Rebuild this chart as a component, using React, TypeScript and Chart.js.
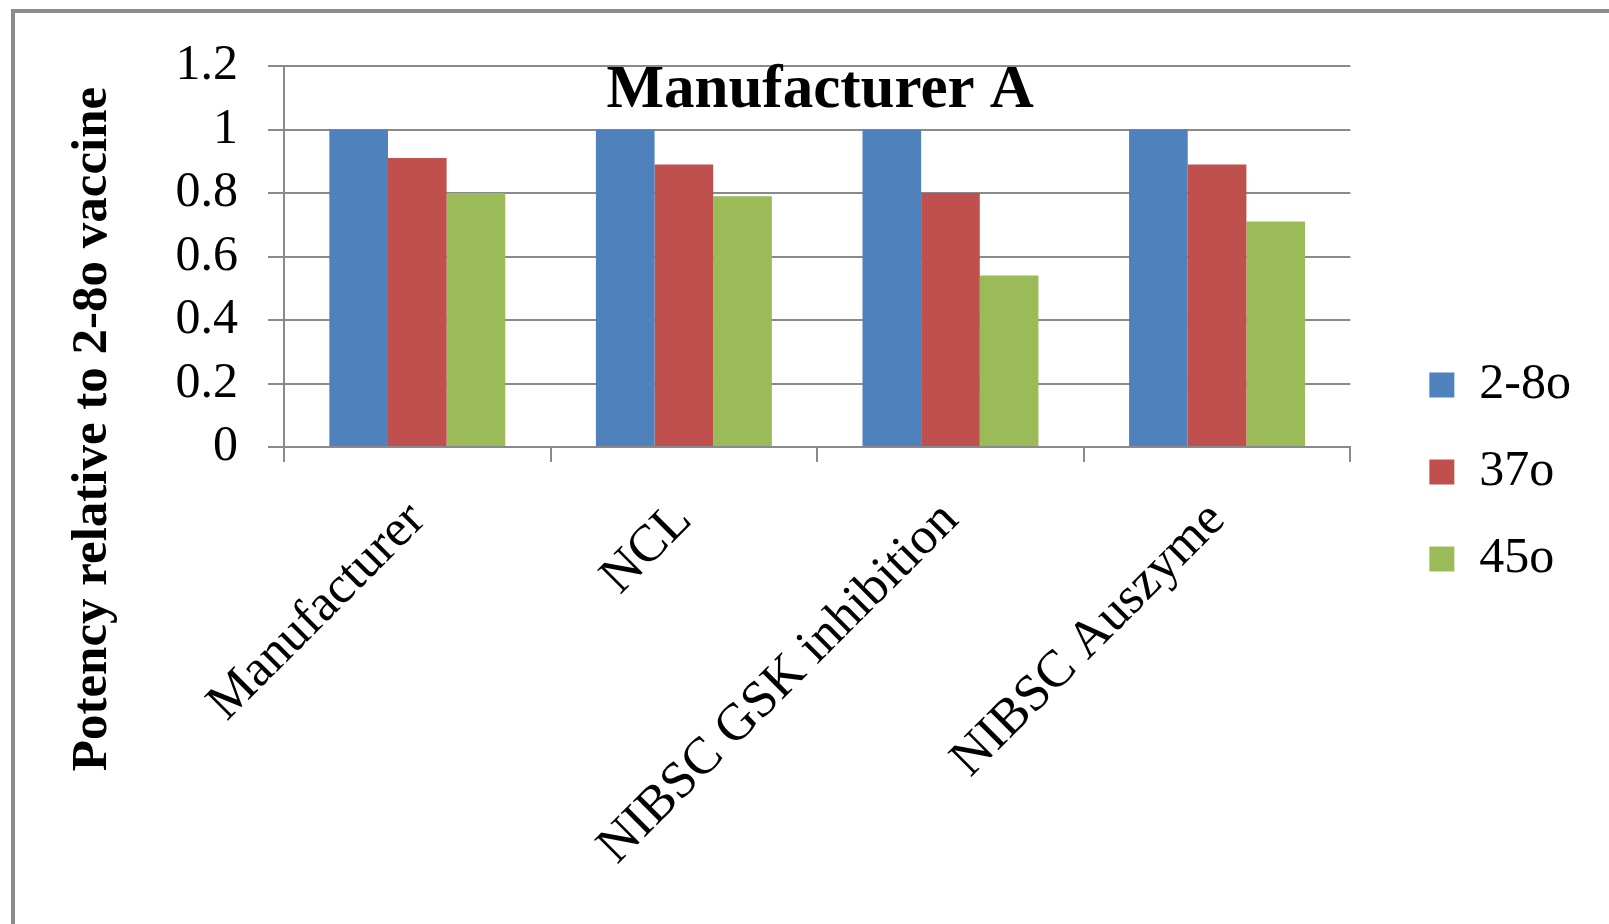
import React, { useEffect, useRef } from 'react';
import { Chart, registerables } from 'chart.js';

Chart.register(...registerables);

const categories = ['Manufacturer', 'NCL', 'NIBSC GSK inhibition', 'NIBSC Auszyme'];
const seriesNames = ['2-8o', '37o', '45o'];
const values28 = [1.0, 1.0, 1.0, 1.0];
const values37 = [0.91, 0.89, 0.8, 0.89];
const values45 = [0.8, 0.79, 0.54, 0.71];
const yTickLabels = ['0', '0.2', '0.4', '0.6', '0.8', '1', '1.2'];
const chartTitle = 'Manufacturer A';
const yAxisTitle = 'Potency relative to 2-8o vaccine';

const seriesColors = ['#4F81BD', '#C0504D', '#9BBB59'];
const gridColor = '#8a8a8a';
const FONT = '"Liberation Serif", "Times New Roman", serif';

const textPlugin = {
  id: 'customText',
  afterDraw(chart: any) {
    const { ctx, chartArea } = chart;
    ctx.save();
    ctx.fillStyle = '#000';
    ctx.font = `bold 61px ${FONT}`;
    ctx.textAlign = 'center';
    ctx.textBaseline = 'alphabetic';
    ctx.fillText(chartTitle, (chartArea.left + chartArea.right) / 2 + 3, chartArea.top + 41);
    ctx.translate(78, 416);
    ctx.rotate(-Math.PI / 2);
    ctx.font = `bold 51px ${FONT}`;
    ctx.textBaseline = 'middle';
    ctx.fillText(yAxisTitle, 0, 0);
    ctx.restore();
  },
};

const legendShift = {
  id: 'legendShift',
  afterLayout(chart: any) {
    const lg = chart.legend;
    if (lg) {
      lg.left += 42;
      lg.right += 42;
      lg.top -= 23;
      lg.bottom -= 23;
    }
  },
};

export default function App() {
  const canvasRef = useRef<HTMLCanvasElement | null>(null);

  useEffect(() => {
    if (!canvasRef.current) return;
    const seriesValues = [values28, values37, values45];
    const chart = new Chart(canvasRef.current, {
      type: 'bar',
      data: {
        labels: categories,
        datasets: seriesNames.map((name, i) => ({
          label: name,
          data: seriesValues[i],
          backgroundColor: seriesColors[i],
          borderWidth: 0,
          barPercentage: 1.0,
          categoryPercentage: 0.66,
        })),
      },
      options: {
        responsive: true,
        maintainAspectRatio: false,
        animation: false,
        layout: { padding: { top: 53, right: 70, bottom: 0, left: 0 } },
        plugins: {
          title: { display: false },
          tooltip: { enabled: false },
          legend: {
            position: 'right',
            labels: {
              boxWidth: 25,
              boxHeight: 25,
              padding: 37,
              color: '#000',
              font: { family: FONT, size: 50 },
            },
          },
        },
        scales: {
          x: {
            offset: true,
            grid: {
              display: true,
              drawOnChartArea: false,
              drawTicks: true,
              tickLength: 15,
              color: gridColor,
              lineWidth: 2,
              offset: true,
            },
            border: { display: true, color: gridColor, width: 2 },
            ticks: {
              color: '#000',
              font: { family: FONT, size: 52 },
              minRotation: 45,
              maxRotation: 45,
              padding: 28,
              autoSkip: false,
            },
            afterFit: (s: any) => {
              s.height = 477;
            },
          },
          y: {
            min: 0,
            max: 1.2,
            ticks: {
              stepSize: 0.2,
              autoSkip: false,
              color: '#000',
              font: { family: FONT, size: 50 },
              padding: 30,
              callback: (_v: any, i: number) => yTickLabels[i],
            },
            grid: { color: gridColor, lineWidth: 2, tickLength: 16, drawTicks: true },
            border: { display: true, color: gridColor, width: 2 },
            afterFit: (s: any) => {
              s.width = 269;
              s.paddingTop = 0;
              s.paddingBottom = 0;
            },
          },
        },
      },
      plugins: [textPlugin, legendShift],
    } as any);
    return () => chart.destroy();
  }, []);

  return (
    <div
      style={{
        position: 'fixed',
        left: 11,
        top: 9,
        right: 0,
        bottom: 0,
        borderLeft: '4px solid #8c8c8c',
        borderTop: '4px solid #8c8c8c',
        boxSizing: 'border-box',
        background: '#fff',
      }}
    >
      <div style={{ position: 'relative', width: '100%', height: '100%' }}>
        <canvas ref={canvasRef} />
      </div>
    </div>
  );
}
